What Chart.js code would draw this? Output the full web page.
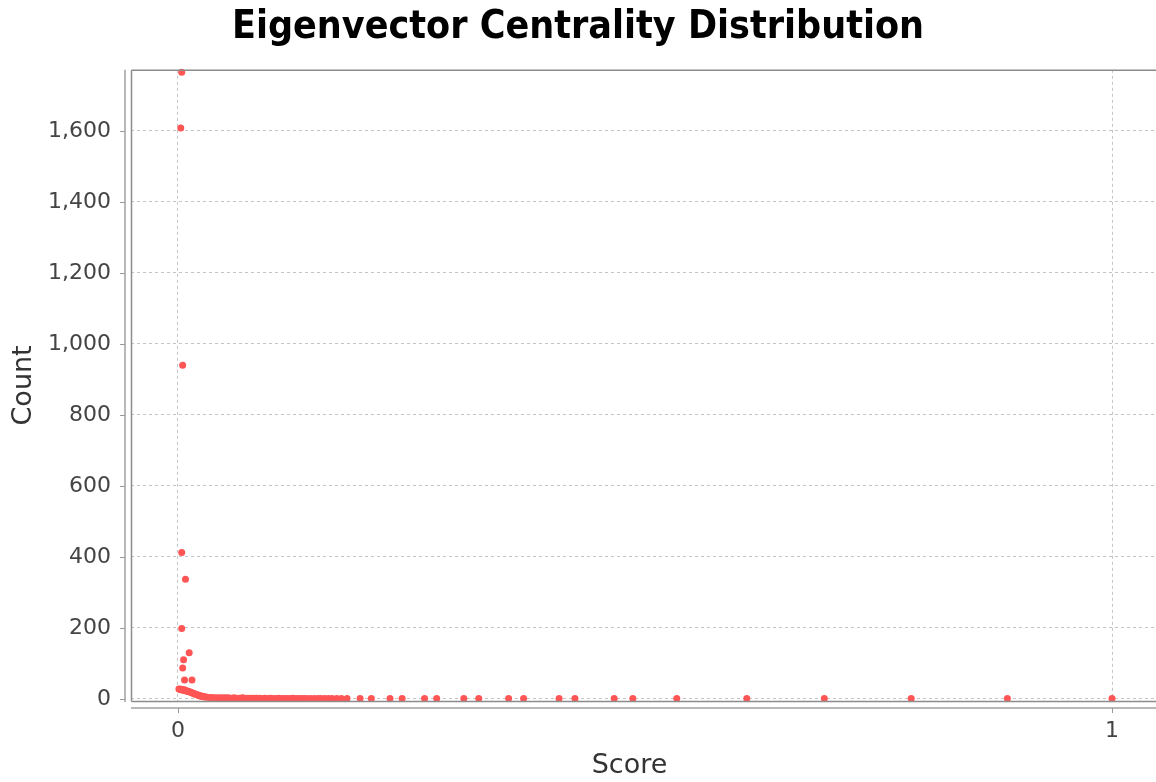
<!DOCTYPE html>
<html><head><meta charset="utf-8">
<script src="https://cdn.jsdelivr.net/npm/chart.js@4.4.0/dist/chart.umd.min.js"></script>
<style>
html,body{margin:0;padding:0;background:#fff;overflow:hidden;}
#wrap{position:relative;width:1156px;height:782px;}
</style></head><body>
<div id="wrap"><canvas id="c" width="1156" height="782"></canvas></div>
<script>
const chartTitle = 'Eigenvector Centrality Distribution';
const xAxisTitle = 'Score';
const yAxisTitle = 'Count';
const xTickValues = [0, 1];
const yTickValues = [0, 200, 400, 600, 800, 1000, 1200, 1400, 1600];

// isolated high-count points near zero
const peakScores = [0.004, 0.003, 0.005, 0.004, 0.008, 0.004, 0.012, 0.006, 0.005, 0.007, 0.015];
const peakCounts = [1765, 1608, 940, 412, 337, 198, 130, 110, 87, 53, 53];

// dense band of low counts
const bandScores = [0.001, 0.002, 0.003, 0.004, 0.005, 0.006, 0.007, 0.008, 0.009, 0.010,
  0.011, 0.012, 0.013, 0.014, 0.015, 0.016, 0.017, 0.018, 0.019, 0.020,
  0.021, 0.022, 0.023, 0.024, 0.025, 0.026, 0.027, 0.028, 0.029, 0.030,
  0.033, 0.036, 0.039, 0.042, 0.045, 0.048, 0.051, 0.054, 0.057, 0.060,
  0.063, 0.066, 0.069, 0.072, 0.075, 0.078, 0.081, 0.084, 0.087, 0.090,
  0.093, 0.096, 0.099, 0.102, 0.105, 0.108, 0.111, 0.114, 0.117, 0.120,
  0.123, 0.126, 0.129, 0.132, 0.135, 0.138, 0.142, 0.146, 0.150, 0.153,
  0.157, 0.161, 0.165, 0.170, 0.175, 0.181];
const bandCounts = [28, 27, 26, 27, 25, 24, 26, 23, 22, 22,
  21, 20, 19, 18, 17, 16, 15, 14, 13, 12,
  11, 10, 9, 8, 8, 7, 6, 6, 5, 5,
  4, 4, 3, 3, 3, 3, 3, 3, 2, 3,
  2, 2, 3, 2, 2, 2, 2, 2, 2, 1,
  2, 1, 2, 1, 1, 2, 1, 1, 1, 1,
  2, 1, 1, 1, 1, 1, 1, 1, 1, 1,
  1, 1, 1, 1, 1, 1];

// sparse tail
const tailScores = [0.195, 0.207, 0.227, 0.240, 0.264, 0.277, 0.306, 0.322, 0.354, 0.370,
  0.408, 0.425, 0.467, 0.487, 0.534, 0.609, 0.692, 0.785, 0.888, 1.0];
const tailCounts = [1, 1, 1, 1, 1, 1, 1, 1, 1, 1, 1, 1, 1, 1, 1, 1, 1, 1, 1, 1];

const toPoints = (xs, ys) => xs.map((x, i) => ({x: x, y: ys[i]}));
const points = [].concat(toPoints(bandScores, bandCounts), toPoints(tailScores, tailCounts), toPoints(peakScores, peakCounts));

const FONT = 'DejaVu Sans';

const frame = {
  id: 'frame',
  afterDatasetsDraw(chart) {
    const {ctx, chartArea: a, scales: {x, y}} = chart;
    const line = (x1, y1, x2, y2) => { ctx.beginPath(); ctx.moveTo(x1, y1); ctx.lineTo(x2, y2); ctx.stroke(); };
    ctx.save();
    // plot outline: top, left, bottom (right edge lies outside the picture)
    ctx.strokeStyle = '#8c8c8c';
    ctx.lineWidth = 1.5;
    line(a.left + 0.5, a.top + 0.5, a.right, a.top + 0.5);
    line(a.left + 0.5, a.top + 0.5, a.left + 0.5, a.bottom + 0.5);
    line(a.left + 0.5, a.bottom + 0.5, a.right, a.bottom + 0.5);
    const yl = a.left - 6;
    const xl = a.bottom + 7;
    ctx.strokeStyle = '#b8b8b8';
    ctx.lineWidth = 2;
    line(yl, a.top, yl, a.bottom + 1);
    line(a.left, xl, a.right, xl);
    ctx.lineWidth = 1;
    ctx.strokeStyle = '#9a9a9a';
    y.ticks.forEach(t => { const p = Math.round(y.getPixelForValue(t.value)) + 0.5; line(yl - 5, p, yl, p); });
    x.ticks.forEach(t => { const p = Math.round(x.getPixelForValue(t.value)) + 0.5; line(p, xl, p, xl + 5); });
    // x axis title (offset left of data-area centre as in the source)
    ctx.fillStyle = '#333';
    ctx.font = '27px "' + FONT + '"';
    ctx.textAlign = 'center';
    ctx.textBaseline = 'middle';
    ctx.fillText(xAxisTitle, (a.left + a.right) / 2 - 14, chart.height - 16);
    ctx.restore();
  }
};

new Chart(document.getElementById('c'), {
  type: 'scatter',
  data: {
    datasets: [{
      label: 'Count',
      data: points,
      backgroundColor: 'rgb(255,85,85)',
      borderWidth: 0,
      pointRadius: 3.5,
      pointHoverRadius: 3.5,
      clip: false
    }]
  },
  options: {
    responsive: false,
    animation: false,
    devicePixelRatio: 1,
    layout: {autoPadding: false, padding: {left: 0, right: 0, top: 0, bottom: 0}},
    plugins: {
      legend: {display: false},
      tooltip: {enabled: false},
      title: {
        display: true,
        text: chartTitle,
        color: '#000',
        font: {family: 'DejaVu Sans Condensed', weight: 'bold', size: 39},
        padding: {top: 4, bottom: 19}
      }
    },
    scales: {
      x: {
        type: 'linear',
        min: -0.0503,
        max: 1.0471,
        afterBuildTicks: s => { s.ticks = xTickValues.map(v => ({value: v})); },
        afterFit: s => { s.height = 81; s.paddingLeft = 0; s.paddingRight = 0; },
        grid: {color: '#c4c4c4', lineWidth: 1, drawTicks: false},
        border: {display: false, dash: [3, 3]},
        ticks: {font: {family: FONT, size: 22}, color: '#444', padding: 17, maxRotation: 0, autoSkip: false,
          callback: v => String(v)},
        title: {display: false}
      },
      y: {
        type: 'linear',
        min: -6,
        max: 1772,
        afterBuildTicks: s => { s.ticks = yTickValues.map(v => ({value: v})); },
        afterFit: s => { s.width = 131; s.paddingTop = 0; s.paddingBottom = 0; },
        grid: {color: '#c4c4c4', lineWidth: 1, drawTicks: false},
        border: {display: false, dash: [3, 3]},
        ticks: {font: {family: FONT, size: 22}, color: '#444', padding: 20, autoSkip: false,
          callback: v => v.toLocaleString('en-US')},
        title: {display: true, text: yAxisTitle, color: '#333', font: {family: FONT, size: 27}, padding: {top: 8, bottom: 0}}
      }
    }
  },
  plugins: [frame]
});
</script>
</body></html>
